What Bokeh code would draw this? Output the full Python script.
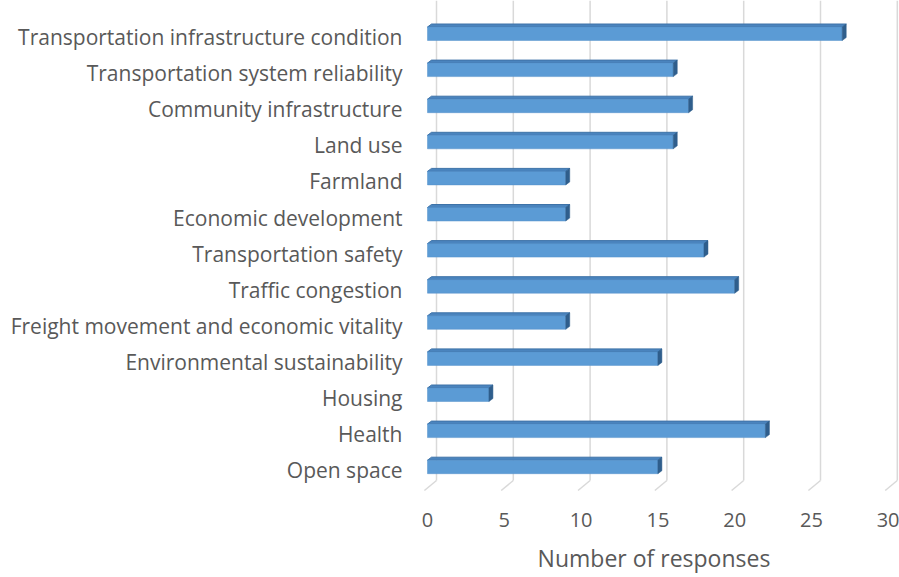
from bokeh.plotting import figure
from bokeh.models import FixedTicker, Range1d
from bokeh.embed import file_html
from bokeh.resources import INLINE

categories = [
    "Transportation infrastructure condition",
    "Transportation system reliability",
    "Community infrastructure",
    "Land use",
    "Farmland",
    "Economic development",
    "Transportation safety",
    "Traffic congestion",
    "Freight movement and economic vitality",
    "Environmental sustainability",
    "Housing",
    "Health",
    "Open space",
]
responses = [27, 16, 17, 16, 9, 9, 18, 20, 9, 15, 4, 22, 15]
x_ticks = [0, 5, 10, 15, 20, 25, 30]
x_title = "Number of responses"

n = len(categories)
ypos = [n - 1 - i for i in range(n)]

W, H = 899, 577
# pixel -> data conversions (used for the pseudo-3D styling only)
PXX = 1 / 15.36
PXY = 1 / 36.1
FL = 408          # frame left (px)
FR = W            # frame right (px)
FB = 492          # frame bottom (px)
X0 = -(427 - FL) * PXX
X1 = X0 + (FR - FL) * PXX
Y1 = 12 + 36.5 * PXY
Y0 = Y1 - FB * PXY

p = figure(width=W, height=H, output_backend="svg", toolbar_location=None,
           x_range=Range1d(X0, X1), y_range=Range1d(Y0, Y1),
           min_border_left=FL, min_border_right=0, min_border_top=0,
           min_border_bottom=H - FB)
p.outline_line_color = None
p.background_fill_color = "white"
p.border_fill_color = "white"
p.grid.visible = False

# back-wall gridlines and floor lines
gback = 0.586
gfront = -0.2
floor_back = Y1 - 480 * PXY
floor_front = Y1 - 490 * PXY
p.segment(x0=[t + gback for t in x_ticks], y0=[floor_back] * len(x_ticks),
          x1=[t + gback for t in x_ticks], y1=[Y1] * len(x_ticks),
          line_color="#D9D9D9", line_width=1.5)
p.segment(x0=[t + gback for t in x_ticks], y0=[floor_back] * len(x_ticks),
          x1=[t + gfront for t in x_ticks], y1=[floor_front] * len(x_ticks),
          line_color="#D9D9D9", line_width=1.5)

# bars: front face, top face, side face
fb = 3.5 * PXY
ft = 10 * PXY
dx = 4 * PXX
dy = 3 * PXY
bottoms = [y - fb for y in ypos]
tops = [y + ft for y in ypos]

top_xs = [[0, v, v + dx, dx] for v in responses]
top_ys = [[t, t, t + dy, t + dy] for t in tops]
side_xs = [[v, v, v + dx, v + dx] for v in responses]
side_ys = [[b, t, t + dy, b + dy] for b, t in zip(bottoms, tops)]

p.patches(top_xs, top_ys, fill_color="#4A84BE", line_color="#3E73A8", line_width=1)
p.quad(left=[0] * n, right=responses, bottom=bottoms, top=tops,
       fill_color="#5B9BD5", line_color="#5591CB", line_width=0.5)
p.patches(side_xs, side_ys, fill_color="#2F5E8C", line_color="#2F5E8C", line_width=0.5)

# axes
p.yaxis.ticker = FixedTicker(ticks=ypos)
p.yaxis.major_label_overrides = {y: c for y, c in zip(ypos, categories)}
p.yaxis.axis_line_color = None
p.yaxis.major_tick_line_color = None
p.yaxis.minor_tick_line_color = None
p.yaxis.major_tick_out = 0
p.yaxis.major_tick_in = 0
p.yaxis.minor_tick_out = 0
p.yaxis.major_label_standoff = 6
p.yaxis.major_label_text_font = "Open Sans"
p.yaxis.major_label_text_font_size = "21px"
p.yaxis.major_label_text_color = "#595959"

p.xaxis.ticker = FixedTicker(ticks=x_ticks)
p.xaxis.axis_line_color = None
p.xaxis.major_tick_line_color = None
p.xaxis.minor_tick_line_color = None
p.xaxis.major_tick_out = 0
p.xaxis.major_tick_in = 0
p.xaxis.minor_tick_out = 0
p.xaxis.major_label_standoff = 20
p.xaxis.major_label_text_font = "Open Sans"
p.xaxis.major_label_text_font_size = "20px"
p.xaxis.major_label_text_color = "#595959"
p.xaxis.axis_label = x_title
p.xaxis.axis_label_standoff = 12
p.xaxis.axis_label_text_font = "Open Sans"
p.xaxis.axis_label_text_font_size = "23px"
p.xaxis.axis_label_text_font_style = "normal"
p.xaxis.axis_label_text_color = "#595959"

open("out.html", "w").write(file_html(p, INLINE))
